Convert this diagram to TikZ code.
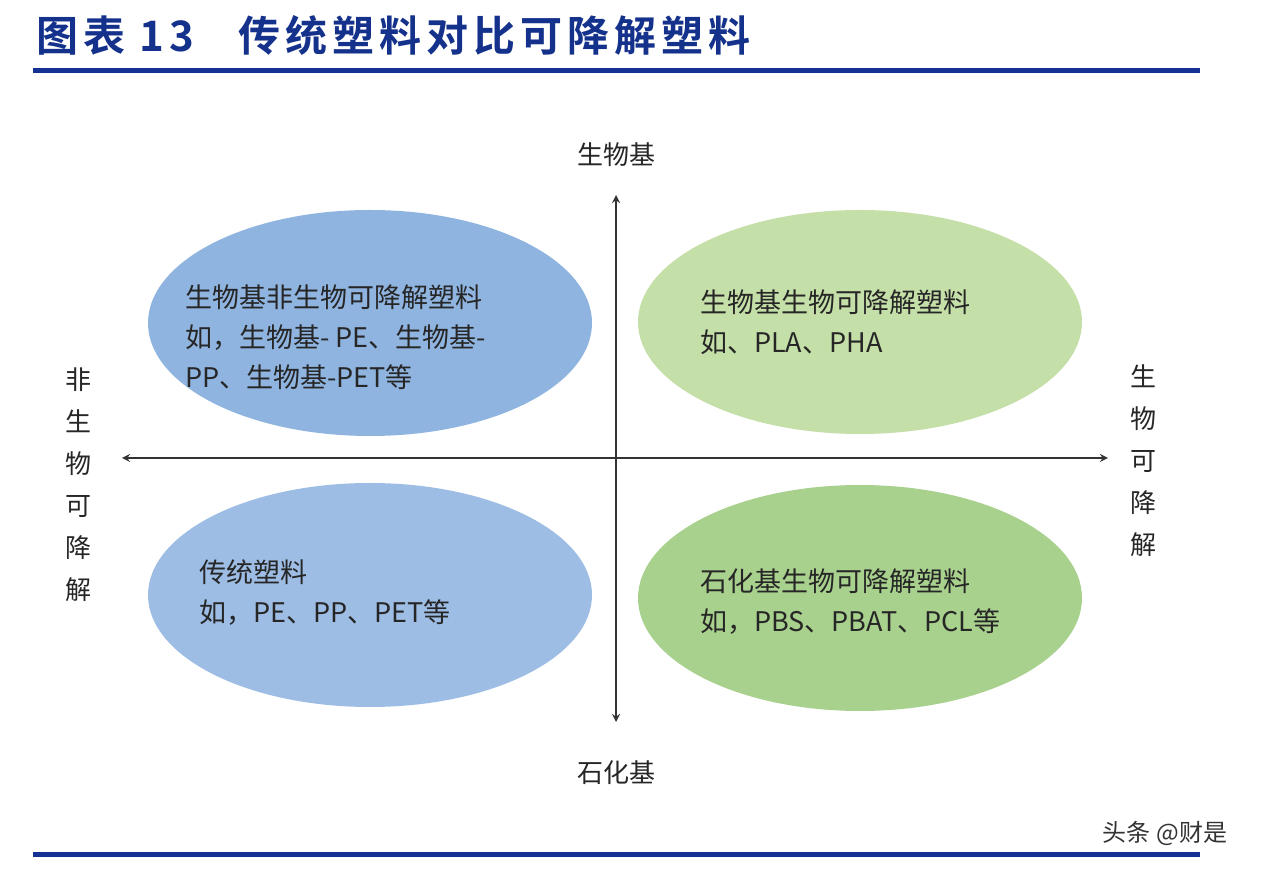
\documentclass[tikz,border=0pt]{standalone}
\usepackage{fontspec}
\setmainfont{Noto Sans CJK SC}
\newfontfamily\cjkb[LetterSpace=12]{Noto Sans CJK SC Bold}
\definecolor{navy}{RGB}{20,50,150}
\definecolor{ttl}{RGB}{20,50,140}
\definecolor{eA}{RGB}{143,180,224}
\definecolor{eB}{RGB}{197,223,168}
\definecolor{eC}{RGB}{157,189,229}
\definecolor{eD}{RGB}{169,209,142}
\begin{document}
\begin{tikzpicture}[x=0.5pt,y=-0.5pt,
  txt/.style={anchor=west, align=left, font=\fontsize{13.5}{20}\selectfont, text=black!85},
  lab/.style={font=\fontsize{13}{20}\selectfont, text=black!85},
  ax/.style={draw=black!80, line width=0.8pt, <->, >=stealth}]
\useasboundingbox[fill=white] (0,0) rectangle (1276,876);
\node[anchor=west, inner sep=0pt, font=\cjkb\fontsize{21}{24}\selectfont, text=ttl] (title) at (36,35) {图表 13\hspace{22pt}传统塑料对比可降解塑料};
\draw[line width=2.5pt, navy] (33,71) -- (1200,71);
\draw[line width=2.5pt, navy] (33,855) -- (1200,855);
\fill[eA] (370,323) ellipse [x radius=222, y radius=113];
\fill[eB] (860,322) ellipse [x radius=222, y radius=112];
\fill[eC] (370,595) ellipse [x radius=222, y radius=112];
\fill[eD] (860,598) ellipse [x radius=222, y radius=113];
\coordinate (t) at (616,195); \coordinate (b) at (616,722);
\coordinate (l) at (122,458); \coordinate (r) at (1108,458);
\draw[ax] (t) -- (b);
\draw[ax] (l) -- (r);
\node[lab] (top) at (616,155) {生物基};
\node[lab] (bot) at (616,773) {石化基};
\node[lab, align=center, font=\fontsize{13}{21}\selectfont] (left) at (78,485) {非\\生\\物\\可\\降\\解};
\node[lab, align=center, font=\fontsize{13}{21}\selectfont] (right) at (1143,461) {生\\物\\可\\降\\解};
\node[txt] (tl) at (178,337) {生物基非生物可降解塑料\\如，生物基- PE、生物基-\\PP、生物基-PET等};
\node[txt] (tr) at (693,322) {生物基生物可降解塑料\\如、PLA、PHA};
\node[txt] (bl) at (192,593) {传统塑料\\如，PE、PP、PET等};
\node[txt] (br) at (693,602) {石化基生物可降解塑料\\如，PBS、PBAT、PCL等};
\node[font=\fontsize{12}{14}\selectfont, text=black!80] (wm) at (1165,833) {头条 @财是};
\end{tikzpicture}
\end{document}
